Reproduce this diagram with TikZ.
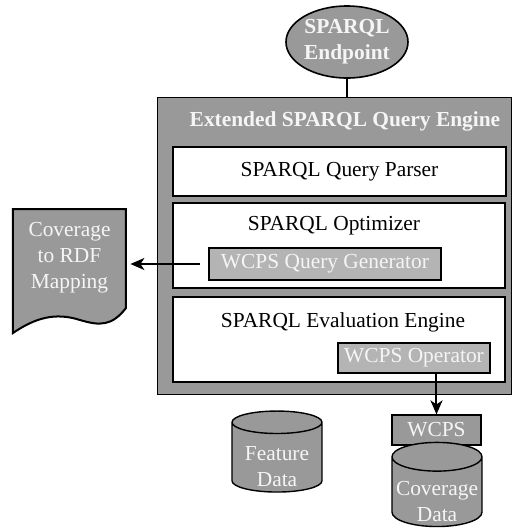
\documentclass[tikz,border=0pt]{standalone}
\usepackage{fontspec}
\setmainfont{Liberation Serif}
\usetikzlibrary{arrows.meta,calc,positioning,shapes.geometric}
\definecolor{boxgrey}{RGB}{153,153,153}
\definecolor{lightgrey}{RGB}{180,180,180}
\definecolor{paletext}{RGB}{245,245,245}

\begin{document}
\begin{tikzpicture}[x=0.5pt,y=-0.5pt,
  every node/.style={font=\fontsize{10.7}{13}\selectfont,inner sep=0pt,align=center},
  greybox/.style={draw,line width=0.6pt,fill=boxgrey,text=paletext},
  lightbox/.style={draw,line width=0.8pt,fill=lightgrey,text=paletext},
  whitebox/.style={draw,line width=0.9pt,fill=white},
  drum/.style={cylinder,shape border rotate=90,aspect=0.35,draw,line width=0.7pt,fill=boxgrey},
  flow/.style={-{Stealth[length=7pt,width=6pt,inset=2pt]},line width=1pt}]
  \useasboundingbox (0,0) rectangle (515,532);
  % query engine frame
  \node[greybox,line width=0.5pt,minimum width=177pt,minimum height=148.5pt] (engine) at (335,245.5) {};
  \node[text=paletext] (title) at (345,121) {\bfseries Extended SPARQL Query Engine};
  \node[whitebox,minimum width=166.5pt,minimum height=24.5pt] (parser) at (339.5,171.5) {SPARQL Query Parser};
  \node[whitebox,minimum width=166pt,minimum height=42.5pt] (optimizer) at (339,245.5) {};
  \node (optlabel) at (334,226) {SPARQL Optimizer};
  \node[lightbox,minimum width=116pt,minimum height=16pt] (generator) at (325,264) {WCPS Query Generator};
  \node[whitebox,minimum width=166pt,minimum height=42.5pt] (evaluation) at (339,339.5) {};
  \node (evallabel) at (343,322) {SPARQL Evaluation Engine};
  \node[lightbox,minimum width=76pt,minimum height=15pt] (operator) at (414,358) {WCPS Operator};
  % endpoint
  \node[ellipse,greybox,line width=0.8pt,minimum width=61pt,minimum height=36pt] (endpoint) at (347,42) {\bfseries SPARQL\\\bfseries Endpoint};
  \draw[line width=0.6pt] (endpoint.south) -- (engine.north -| endpoint.south);
  % data sources
  \node[greybox,minimum width=44.5pt,minimum height=15pt] (wcps) at (436.5,430) {WCPS};
  \node[drum,minimum width=45pt,minimum height=40.5pt] (feature) at (277,457.5) {\phantom{Feature}\\\phantom{Data}};
  \node[text=paletext] (featurelabel) at ([yshift=-4.5pt]feature.center) {Feature\\Data};
  \node[drum,minimum width=45pt,minimum height=37.5pt] (coverage) at (437,492) {\phantom{Coverage}\\\phantom{Data}};
  \node[text=paletext] (coveragelabel) at ([yshift=-5pt]coverage.center) {Coverage\\Data};
  % mapping document
  \filldraw[fill=boxgrey,line width=1pt] (13,209) -- (126,209) -- (126,308)
    .. controls (112,326) and (100,326) .. (80,320)
    .. controls (55,312) and (35,318) .. (13,333) -- cycle;
  \node[text=paletext,minimum width=56.5pt] (mapping) at (69.5,258) {Coverage\\to RDF\\Mapping};
  % connectors
  \draw[flow] ([xshift=-4pt]generator.west) -- ([xshift=2pt]mapping.east |- generator.west);
  \draw[flow] (wcps.north |- operator.south) -- (wcps.north);
\end{tikzpicture}
\end{document}
